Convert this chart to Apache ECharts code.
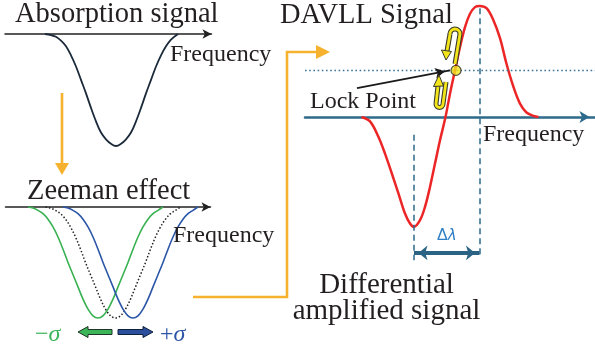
<!DOCTYPE html>
<html>
<head>
<meta charset="utf-8">
<script src="https://cdn.jsdelivr.net/npm/echarts@6/dist/echarts.min.js"></script>
<style>
  html, body { margin: 0; padding: 0; background: #fff; }
  #chart { width: 595px; height: 345px; }
</style>
</head>
<body>
<div id="chart"></div>
<script>
// Single absorption line (frequency offset, transmitted signal)
const absorptionFreq   = [-7.1, -6.5, -6, -5.5, -5, -4.5, -4, -3.5, -3, -2.5, -2, -1.5, -1, -0.5, 0,
                          0.5, 1, 1.5, 2, 2.5, 3, 3.5, 4, 4.5, 5, 5.5, 6.2];
const absorptionSignal = [0, -0.01, -0.025, -0.06, -0.11, -0.19, -0.29, -0.41, -0.53, -0.66, -0.78, -0.88, -0.94, -0.98, -1,
                          -0.98, -0.94, -0.88, -0.78, -0.66, -0.53, -0.41, -0.29, -0.19, -0.11, -0.05, 0];

// Zeeman-split components (sigma-minus, sigma-plus) and the unsplit line
const sigmaMinusFreq   = [-8.75, -8.25, -7.75, -7.25, -6.75, -6.25, -5.75, -5.25, -4.75, -4.25, -3.75, -3.25, -2.75, -2.25, -1.75,
                          -1.25, -0.75, -0.25, 0.25, 0.75, 1.25, 1.75, 2.25, 2.75, 3.25, 3.75, 4.25, 4.75];
const sigmaMinusSignal = [0, -0.01, -0.03, -0.06, -0.11, -0.18, -0.27, -0.38, -0.5, -0.61, -0.72, -0.83, -0.92, -0.98, -1,
                          -0.98, -0.92, -0.83, -0.72, -0.61, -0.5, -0.38, -0.27, -0.18, -0.11, -0.06, -0.03, 0];
const sigmaPlusFreq    = [-5.25, -4.75, -4.25, -3.75, -3.25, -2.75, -2.25, -1.75, -1.25, -0.75, -0.25, 0.25, 0.75, 1.25, 1.75,
                          2.25, 2.75, 3.25, 3.75, 4.25, 4.75, 5.25, 5.75, 6.25, 6.75, 7.25, 7.75, 8.25];
const sigmaPlusSignal  = [0, -0.01, -0.03, -0.06, -0.11, -0.18, -0.27, -0.38, -0.5, -0.61, -0.72, -0.83, -0.92, -0.98, -1,
                          -0.98, -0.92, -0.83, -0.72, -0.61, -0.5, -0.38, -0.27, -0.18, -0.11, -0.06, -0.03, 0];
const unsplitFreq      = [-7, -6.5, -6, -5.5, -5, -4.5, -4, -3.5, -3, -2.5, -2, -1.5, -1, -0.5, 0,
                          0.5, 1, 1.5, 2, 2.5, 3, 3.5, 4, 4.5, 5, 5.5, 6, 6.5];
const unsplitSignal    = [0, -0.01, -0.03, -0.06, -0.11, -0.18, -0.27, -0.38, -0.5, -0.61, -0.72, -0.83, -0.92, -0.98, -1,
                          -0.98, -0.92, -0.83, -0.72, -0.61, -0.5, -0.38, -0.27, -0.18, -0.11, -0.06, -0.03, 0];

// Differential (DAVLL) error signal
const davllFreq   = [-8.5, -7.65, -6.8, -6.15, -5.5, -4.8, -4.15, -3.65, -3.25, -2.65, -2.15, -1.65, -1.15, -0.65, -0.1,
                     0.35, 0.85, 1.35, 1.85, 2.35, 2.85, 3.3, 4.0, 4.7, 5.35, 6.0, 6.7, 7.35, 8.0, 8.7, 9.2];
const davllSignal = [0, -0.04, -0.18, -0.33, -0.5, -0.69, -0.87, -0.96, -0.99, -0.93, -0.81, -0.63, -0.42, -0.21, 0,
                     0.21, 0.42, 0.63, 0.81, 0.93, 0.99, 1.0, 0.98, 0.87, 0.71, 0.48, 0.27, 0.12, 0.04, 0.01, 0];

// Lock point and the positions of the two extrema
const lockPoint = [0.95, 0.42];
const dipFreq = -3.25;
const peakFreq = 3.3;

const zip = (xs, ys) => xs.map((x, i) => [x, ys[i]]);

const SERIF = '"Liberation Serif", "Times New Roman", serif';
const TEXT = '#231f20';
const ORANGE = '#f6b22e';
const TEAL = '#2d6a8b';
const YELLOW = '#f3e51a';
const OUTLINE = '#3a3a2a';

function label(text, x, baseline, size, align) {
  return {
    type: 'text', x: x, y: baseline - size * 0.305, z: 50,
    style: { text: text, fontSize: size, fontFamily: SERIF, fill: TEXT, align: align || 'left', verticalAlign: 'middle' }
  };
}

function hiddenY(gridIndex, min, max) {
  return { gridIndex: gridIndex, type: 'value', min: min, max: max, show: false };
}
function freqAxis(gridIndex, min, max, color, width, arrowSize, arrowOffset) {
  return {
    gridIndex: gridIndex, type: 'value', min: min, max: max,
    axisLine: { show: true, onZero: true, symbol: ['none', 'arrow'], symbolSize: arrowSize,
                symbolOffset: [0, arrowOffset || 0],
                lineStyle: { color: color, width: width } },
    axisTick: { show: false }, axisLabel: { show: false }, splitLine: { show: false }
  };
}
function curve(xi, name, xs, ys, color, width, type) {
  return {
    type: 'line', name: name, xAxisIndex: xi, yAxisIndex: xi,
    data: zip(xs, ys), smooth: 0.35, showSymbol: false, clip: false, silent: true,
    lineStyle: { color: color, width: width, type: type || 'solid' }, z: 3
  };
}

// Yellow U-turn arrow: two legs joined by a half circle, drawn as outline + fill stroke
function hairpin(legA, legB, arc, head) {
  const parts = [];
  [[OUTLINE, 5, 60], [YELLOW, 2.8, 61]].forEach(function (s) {
    parts.push({ type: 'polyline', z: s[2], shape: { points: legA }, style: { stroke: s[0], lineWidth: s[1], fill: null } });
    parts.push({ type: 'polyline', z: s[2], shape: { points: legB }, style: { stroke: s[0], lineWidth: s[1], fill: null } });
    parts.push({ type: 'arc', z: s[2], shape: arc, style: { stroke: s[0], lineWidth: s[1], fill: null } });
  });
  parts.push({ type: 'polygon', z: 62, shape: { points: head }, style: { fill: YELLOW, stroke: OUTLINE, lineWidth: 1 } });
  return parts;
}

const chart = echarts.init(document.getElementById('chart'), null, { renderer: 'canvas' });

chart.setOption({
  animation: false,
  backgroundColor: '#fff',
  grid: [
    { left: 5,   top: 34,  width: 206.5, height: 112 },
    { left: 5.5, top: 207, width: 205,   height: 111 },
    { left: 305, top: 6,   width: 290,   height: 257.5 }
  ],
  xAxis: [
    freqAxis(0, -11.1, 9.55, '#222', 1.5, [7, 9]),
    freqAxis(1, -11, 9.5, '#222', 1.5, [7, 9]),
    freqAxis(2, -14.15, 14.85, TEAL, 2.5, [9, 10], -5.5)
  ],
  yAxis: [ hiddenY(0, -1, 0), hiddenY(1, -1, 0), hiddenY(2, -1.32, 1) ],
  series: [
    curve(0, 'Absorption', absorptionFreq, absorptionSignal, '#1b2a3a', 1.8),
    curve(1, 'Unsplit', unsplitFreq, unsplitSignal, '#222', 1.5, [1.5, 2]),
    curve(1, 'sigma-', sigmaMinusFreq, sigmaMinusSignal, '#38b152', 1.6),
    curve(1, 'sigma+', sigmaPlusFreq, sigmaPlusSignal, '#2b56a8', 1.6),
    Object.assign(curve(2, 'DAVLL', davllFreq, davllSignal, '#ec2626', 2.5), {
      markLine: {
        silent: true, animation: false, symbol: ['none', 'none'], label: { show: false },
        data: [
          { yAxis: lockPoint[1], lineStyle: { color: '#3a7597', width: 1.4, type: [1.6, 2.6] } },
          [ { coord: [dipFreq, -0.16], lineStyle: { color: TEAL, width: 1.5, type: [6, 4] } },
            { coord: [dipFreq, -1.29] } ],
          [ { coord: [peakFreq, 0.98], lineStyle: { color: TEAL, width: 1.5, type: [6, 4] } },
            { coord: [peakFreq, -1.27] } ],
          [ { coord: [dipFreq, -1.225], symbol: 'arrow', symbolSize: [11, 9], symbolOffset: [0, 4.5],
              lineStyle: { color: '#2b6385', width: 4, type: 'solid' },
              label: { show: true, position: 'middle', distance: 9,
                       formatter: '{d|Δ}{l|λ}',
                       rich: { d: { fontFamily: '"Liberation Sans", Arial, sans-serif', fontSize: 16, color: '#2f7fc4' },
                               l: { fontFamily: '"DejaVu Sans", sans-serif', fontStyle: 'italic', fontSize: 15, color: '#2f7fc4' } } } },
            { coord: [peakFreq, -1.225], symbol: 'arrow', symbolSize: [11, 9], symbolOffset: [0, 4.5] } ],
          [ { coord: [-8.95, 0.26], lineStyle: { color: '#1a1a1a', width: 1.8, type: 'solid' } },
            { coord: [0.35, lockPoint[1]], symbol: 'arrow', symbolSize: [8, 10], symbolOffset: [0, 5] } ]
        ]
      }
    }),
    {
      type: 'scatter', name: 'Lock point', xAxisIndex: 2, yAxisIndex: 2, z: 6, silent: true,
      data: [lockPoint], symbolSize: 10,
      itemStyle: { color: '#f2e31c', borderColor: '#2b2b2b', borderWidth: 1.2 }
    }
  ],
  graphic: {
    elements: [
      label('Absorption signal', 15, 23, 28.5),
      label('Frequency', 170, 62.5, 24),
      label('Zeeman effect', 27, 200, 28.5),
      label('Frequency', 173, 243, 24),
      label('DAVLL Signal', 280, 24, 28.5),
      label('Lock Point', 310, 109, 24),
      label('Frequency', 483, 142.5, 24),
      label('Differential', 386.5, 294, 29, 'center'),
      label('amplified signal', 386.5, 320, 29, 'center'),
      {
        type: 'text', x: 35, y: 335, z: 50,
        style: { text: '{m|−}{s|σ}', verticalAlign: 'middle',
                 rich: { m: { fontSize: 24, fontFamily: SERIF, fill: '#3cb558' },
                         s: { fontSize: 24, fontFamily: SERIF, fontStyle: 'italic', fill: '#3cb558' } } }
      },
      {
        type: 'text', x: 160, y: 335, z: 50,
        style: { text: '{m|+}{s|σ}', verticalAlign: 'middle',
                 rich: { m: { fontSize: 24, fontFamily: SERIF, fill: '#2d55a6' },
                         s: { fontSize: 24, fontFamily: SERIF, fontStyle: 'italic', fill: '#2d55a6' } } }
      },
      // sigma shift arrows
      { type: 'polygon', z: 40, shape: { points: [[78, 332], [88, 326.5], [88, 329.5], [112, 329.5], [112, 334.5], [88, 334.5], [88, 337.5]] },
        style: { fill: '#3cb558', stroke: '#1c3526', lineWidth: 1 } },
      { type: 'polygon', z: 40, shape: { points: [[153, 332], [143, 326.5], [143, 329.5], [118, 329.5], [118, 334.5], [143, 334.5], [143, 337.5]] },
        style: { fill: '#2b4f9c', stroke: '#10203f', lineWidth: 1 } },
      // orange flow arrows
      { type: 'polyline', z: 30, shape: { points: [[62, 93], [62, 165]] }, style: { stroke: ORANGE, lineWidth: 2.6, fill: null } },
      { type: 'polygon', z: 30, shape: { points: [[55, 163], [69, 163], [62, 175]] }, style: { fill: ORANGE } },
      { type: 'polyline', z: 30, shape: { points: [[193, 297], [287, 297], [287, 52], [318, 52]] }, style: { stroke: ORANGE, lineWidth: 2.6, fill: null } },
      { type: 'polygon', z: 30, shape: { points: [[316, 45], [316, 59], [330, 52]] }, style: { fill: ORANGE } }
    ].concat(
      hairpin([[455, 64], [460, 34]], [[450, 34], [447, 51]],
              { cx: 455, cy: 34, r: 5, startAngle: Math.PI, endAngle: 2 * Math.PI, clockwise: true },
              [[446, 60], [441.5, 50], [451.5, 51.5]]),
      hairpin([[446, 82], [443, 104]], [[436, 104], [438, 86]],
              { cx: 439.5, cy: 104, r: 3.5, startAngle: 0, endAngle: Math.PI, clockwise: true },
              [[439, 75], [433.5, 86.5], [443.5, 86]])
    )
  }
});
</script>
</body>
</html>
